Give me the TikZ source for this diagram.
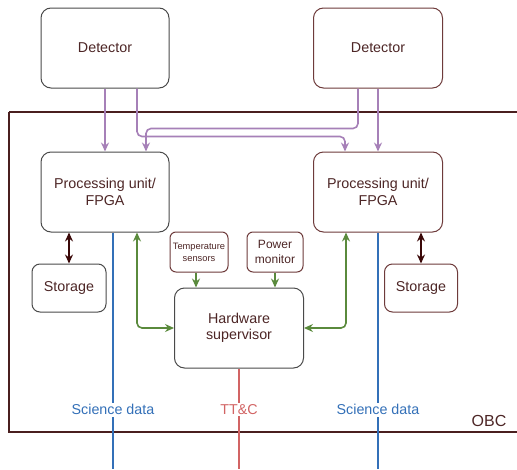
\documentclass[tikz,border=0pt]{standalone}
\usepackage{fontspec}
\setmainfont{Liberation Sans}
\usetikzlibrary{arrows.meta}
\definecolor{txt}{HTML}{4D2626}
\definecolor{edgegray}{HTML}{4A4A4A}
\definecolor{edgebrown}{HTML}{6E3B3B}
\definecolor{obcline}{HTML}{4A1F1F}
\definecolor{purp}{HTML}{A680B8}
\definecolor{grn}{HTML}{5A8A3C}
\definecolor{sci}{HTML}{3370B8}
\definecolor{ttc}{HTML}{D26464}
\definecolor{darkred}{HTML}{3A0808}
\tikzset{
  box/.style={draw=#1, line width=1pt, rounded corners=10pt, align=center,
    text=txt, font=\fontsize{14.3}{16.5}\selectfont, inner sep=0pt},
  smallbox/.style={draw=edgebrown, line width=1pt, rounded corners=6pt, align=center,
    text=txt, inner sep=0pt, minimum width=#1, minimum height=40pt},
  tip/.style={-{Stealth[length=9pt,width=8pt,inset=3pt]}},
  dtip/.style={{Stealth[length=9pt,width=8pt,inset=3pt]}-{Stealth[length=9pt,width=8pt,inset=3pt]}},
  purpline/.style={draw=purp, line width=1.6pt, rounded corners=5pt, tip},
  grnline/.style={draw=grn, line width=1.6pt, rounded corners=5pt},
  bus/.style={line width=1.6pt},
  buslabel/.style={fill=white, inner sep=1.5pt, font=\fontsize{14.3}{16}\selectfont}
}
\begin{document}
\begin{tikzpicture}[x=1pt, y=-1pt]
  \useasboundingbox (0,0) rectangle (517,469);
  \clip (0,0) rectangle (517,469);
  \fill[white] (0,0) rectangle (517,469);

  % on-board computer enclosure
  \draw[obcline, line width=2pt] (9,112) -- (530,112) (9,112) -- (9,432) -- (530,432);
  \node[text=txt, font=\fontsize{16}{18}\selectfont] (obc) at (489,421) {OBC};

  % boxes
  \node[box=edgegray, minimum width=128pt, minimum height=80pt] (ldet) at (105,48) {Detector};
  \node[box=edgebrown, minimum width=129pt, minimum height=80pt] (rdet) at (378,48) {Detector};
  \node[box=edgegray, minimum width=128pt, minimum height=80pt] (lpu) at (105,192) {Processing unit/\\FPGA};
  \node[box=edgebrown, minimum width=129pt, minimum height=80pt] (rpu) at (378,192) {Processing unit/\\FPGA};
  \node[box=edgegray, rounded corners=8pt, minimum width=74pt, minimum height=48pt] (lstor) at (69,288) {Storage};
  \node[box=edgebrown, rounded corners=8pt, minimum width=73pt, minimum height=48pt] (rstor) at (421,288) {Storage};
  \node[smallbox=58pt, font=\fontsize{9.3}{12}\selectfont] (temp) at (199,252) {Temperature\\sensors};
  \node[smallbox=56pt, font=\fontsize{12}{14.5}\selectfont] (pwr) at (275,252) {Power\\monitor};
  \node[box=edgegray, minimum width=129pt, minimum height=80pt] (hs) at (239,328) {Hardware\\supervisor};

  % detector outputs
  \draw[purpline] (ldet.south) -- (lpu.north);
  \draw[purpline] (rdet.south) -- (rpu.north);
  \draw[purpline] ([xshift=32pt]ldet.south) -- ++(0,48) -| ([xshift=-33pt]rpu.north);
  \draw[purpline] ([xshift=-20pt]rdet.south) -- ++(0,40) -| ([xshift=41pt]lpu.north);

  % storage links
  \draw[darkred, line width=1.6pt, dtip] (lstor.north |- lpu.south) -- (lstor.north);
  \draw[darkred, line width=1.6pt, dtip] (rstor.north |- rpu.south) -- (rstor.north);

  % sensor inputs to the supervisor
  \draw[grnline, tip] ([xshift=-3pt]temp.south) -- ([xshift=-3pt]temp.south |- hs.north);
  \draw[grnline, tip] (pwr.south) -- (pwr.south |- hs.north);

  % supervisor links to the processing units
  \draw[grnline, dtip] ([xshift=32pt]lpu.south) |- (hs.west);
  \draw[grnline, dtip] ([xshift=-32pt]rpu.south) |- (hs.east);

  % outgoing buses
  \coordinate (lsciend) at (113,469);
  \coordinate (rsciend) at (378,469);
  \coordinate (ttcend) at (239,469);
  \draw[sci, bus] (lsciend |- lpu.south) -- (lsciend)
    node[pos=0.75, buslabel, text=sci] (lscilab) {Science data};
  \draw[sci, bus] (rpu.south) -- (rsciend)
    node[pos=0.75, buslabel, text=sci] (rscilab) {Science data};
  \draw[ttc, bus] (hs.south) -- (ttcend)
    node[pos=0.41, buslabel, text=ttc] (ttclab) {TT\&C};
\end{tikzpicture}
\end{document}
